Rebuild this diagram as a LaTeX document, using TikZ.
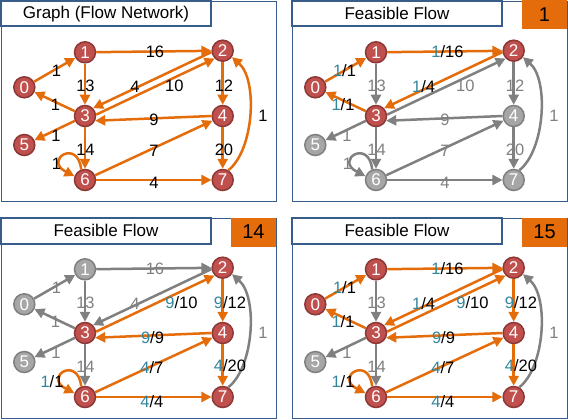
\documentclass[tikz,border=0pt]{standalone}
\usepackage{fontspec}
\setmainfont{Liberation Sans}
\usetikzlibrary{arrows.meta}
\definecolor{eorange}{HTML}{E46C0A}
\definecolor{egray}{HTML}{808080}
\definecolor{nred}{HTML}{C0504D}
\definecolor{nredd}{HTML}{8C3836}
\definecolor{ngray}{HTML}{A6A6A6}
\definecolor{ngrayd}{HTML}{7F7F7F}
\definecolor{fteal}{HTML}{31859C}
\definecolor{fblue}{HTML}{385D8A}
\newcommand\fv[2]{\textcolor{fteal}{#1}/#2}
\newcommand\gv[1]{\textcolor{egray}{#1}}
\tikzset{
  pnode/.style={circle, minimum size=21pt, inner sep=0pt, line width=1.5pt, text=white, font=\fontsize{17}{17}\selectfont},
  rn/.style={pnode, fill=nred, draw=nredd},
  gn/.style={pnode, fill=ngray, draw=ngrayd},
  edgebase/.style={line width=2.5pt, -{Triangle[length=10pt,width=10pt]}},
  fl/.style={edgebase, draw=eorange},
  nf/.style={edgebase, draw=egray},
  lbl/.style={inner sep=0pt, font=\fontsize{16.5}{16.5}\selectfont},
  panelframe/.style={draw=fblue, line width=1pt},
  titlebox/.style={draw=fblue, line width=2pt, fill=white, minimum width=210pt, minimum height=25.5pt, inner sep=0pt, font=\fontsize{17}{17}\selectfont},
  numbox/.style={fill=eorange, minimum width=45pt, minimum height=29pt, inner sep=0pt, font=\fontsize{20}{20}\selectfont},
  p01/.style={at={(56.5,70.5)}},
  p12/.style={at={(155,51.7)}},
  p13/.style={at={(85.5,85.5)}},
  p23/.style={at={(135,87)}},
  p32/.style={at={(174.3,86)}},
  p24/.style={at={(224,86)}},
  p30/.style={at={(55.5,105)}},
  p43/.style={at={(154,120)}},
  p72/.style={at={(263,115.5)}},
  p35/.style={at={(56,135.5)}},
  p36/.style={at={(85.5,150)}},
  p64/.style={at={(154,150.7)}},
  p47/.style={at={(224,150)}},
  p66/.style={at={(56.5,163.5)}},
  p67/.style={at={(154,183.3)}},
  c01/.style={p01/.style={at={(53.5,71)}}},
  c12/.style={p12/.style={at={(156.5,52)}}},
  c23/.style={p23/.style={at={(132.7,86.5)}}},
  c30/.style={p30/.style={at={(52,105)}}},
  c32/.style={p32/.style={at={(181.5,85.7)}}},
  c24/.style={p24/.style={at={(230,85.7)}}},
  c43/.style={p43/.style={at={(152.5,120.5)}}},
  c64/.style={p64/.style={at={(151.8,150.7)}}},
  c47/.style={p47/.style={at={(230,149)}}},
  c66/.style={p66/.style={at={(52,164.5)}}},
  c67/.style={p67/.style={at={(151.8,185)}}},
}
\newcommand\drawnet{%
  \node[n0s] (n0) at (24.3,87.3) {0};
  \node[n1s] (n1) at (85,52.3) {1};
  \node[n2s] (n2) at (222.7,50.7) {2};
  \node[n3s] (n3) at (85,116) {3};
  \node[n4s] (n4) at (222.7,116) {4};
  \node[n5s] (n5) at (24.3,145) {5};
  \node[n6s] (n6) at (85,180) {6};
  \node[n7s] (n7) at (222.7,180) {7};
  \draw[e72] (n7.60) .. controls (254,150) and (258,80) .. (n2.-35);
  \draw[e35] (n3) -- (n5);
  \draw[e36] (n3) -- (n6);
  \draw[e13] (n1) -- (n3);
  \draw[e23] (n2.187) -- (n3.44);
  \draw[e32] (n3.7) -- (n2.224);
  \draw[e01] (n0) -- (n1);
  \draw[e12] (n1) -- (n2);
  \draw[e30] (n3) -- (n0);
  \draw[e24] (n2) -- (n4);
  \draw[e43] (n4.180) -- (n3.-25);
  \draw[e64] (n6) -- (n4);
  \draw[e47] (n4) -- (n7);
  \draw[e66] (n6.110) .. controls (78,138) and (43,160) .. (n6.160);
  \draw[e67] (n6) -- (n7);
  \node[lbl,p01] (l01) {\XLab};
  \node[lbl,p12] (l12) {\XLbc};
  \node[lbl,p13] (l13) {\XLbd};
  \node[lbl,p23] (l23) {\XLcd};
  \node[lbl,p32] (l32) {\XLdc};
  \node[lbl,p24] (l24) {\XLce};
  \node[lbl,p30] (l30) {\XLda};
  \node[lbl,p43] (l43) {\XLed};
  \node[lbl,p72] (l72) {\XLhc};
  \node[lbl,p35] (l35) {\XLdf};
  \node[lbl,p36] (l36) {\XLdg};
  \node[lbl,p64] (l64) {\XLge};
  \node[lbl,p47] (l47) {\XLeh};
  \node[lbl,p66] (l66) {\XLgg};
  \node[lbl,p67] (l67) {\XLgh};
}
\newcommand\drawpanel[1]{%
  \draw[panelframe] (1.5,1.7) rectangle (276.5,201.7);
  \node[titlebox] (tb) at (106,13.75) {#1};
}
\begin{document}
\begin{tikzpicture}[x=1pt,y=-1pt]
\useasboundingbox (0,0) rectangle (568,420);
% ---------- panel 1
\begin{scope}
  \tikzset{n0s/.style=rn,n1s/.style=rn,n2s/.style=rn,n3s/.style=rn,n4s/.style=rn,n5s/.style=rn,n6s/.style=rn,n7s/.style=rn,
    e01/.style=fl,e12/.style=fl,e13/.style=fl,e23/.style=fl,e32/.style=fl,e24/.style=fl,e30/.style=fl,e43/.style=fl,
    e72/.style=fl,e35/.style=fl,e36/.style=fl,e64/.style=fl,e47/.style=fl,e66/.style=fl,e67/.style=fl}
  \def\XLab{1}\def\XLbc{16}\def\XLbd{13}\def\XLcd{4}\def\XLdc{10}\def\XLce{12}\def\XLda{1}\def\XLed{9}
  \def\XLhc{1}\def\XLdf{1}\def\XLdg{14}\def\XLge{7}\def\XLeh{20}\def\XLgg{1}\def\XLgh{4}
  \drawpanel{Graph (Flow Network)}
  \drawnet
\end{scope}
% ---------- panel 2
\begin{scope}[shift={(291,0)}]
  \tikzset{n0s/.style=rn,n1s/.style=rn,n2s/.style=rn,n3s/.style=rn,n4s/.style=gn,n5s/.style=gn,n6s/.style=gn,n7s/.style=gn,
    e01/.style=fl,e12/.style=fl,e13/.style=nf,e23/.style=fl,e32/.style=nf,e24/.style=nf,e30/.style=fl,e43/.style=nf,
    e72/.style=nf,e35/.style=nf,e36/.style=nf,e64/.style=nf,e47/.style=nf,e66/.style=nf,e67/.style=nf,
    c01,c12,c23,c30}
  \def\XLab{\fv{1}{1}}\def\XLbc{\fv{1}{16}}\def\XLbd{\gv{13}}\def\XLcd{\fv{1}{4}}\def\XLdc{\gv{10}}\def\XLce{\gv{12}}\def\XLda{\fv{1}{1}}\def\XLed{\gv{9}}
  \def\XLhc{\gv{1}}\def\XLdf{\gv{1}}\def\XLdg{\gv{14}}\def\XLge{\gv{7}}\def\XLeh{\gv{20}}\def\XLgg{\gv{1}}\def\XLgh{\gv{4}}
  \drawpanel{Feasible Flow}
  \node[numbox] (nb2) at (253.5,15) {1};
  \drawnet
\end{scope}
% ---------- panel 3
\begin{scope}[shift={(0,217)}]
  \tikzset{n0s/.style=gn,n1s/.style=gn,n2s/.style=rn,n3s/.style=rn,n4s/.style=rn,n5s/.style=gn,n6s/.style=rn,n7s/.style=rn,
    e01/.style=nf,e12/.style=nf,e13/.style=nf,e23/.style=nf,e32/.style=fl,e24/.style=fl,e30/.style=nf,e43/.style=fl,
    e72/.style=nf,e35/.style=nf,e36/.style=nf,e64/.style=fl,e47/.style=fl,e66/.style=fl,e67/.style=fl,
    c32,c24,c43,c64,c47,c66,c67}
  \def\XLab{\gv{1}}\def\XLbc{\gv{16}}\def\XLbd{\gv{13}}\def\XLcd{\gv{4}}\def\XLdc{\fv{9}{10}}\def\XLce{\fv{9}{12}}\def\XLda{\gv{1}}\def\XLed{\fv{9}{9}}
  \def\XLhc{\gv{1}}\def\XLdf{\gv{1}}\def\XLdg{\gv{14}}\def\XLge{\fv{4}{7}}\def\XLeh{\fv{4}{20}}\def\XLgg{\fv{1}{1}}\def\XLgh{\fv{4}{4}}
  \drawpanel{Feasible Flow}
  \node[numbox] (nb3) at (253.5,15) {14};
  \drawnet
\end{scope}
% ---------- panel 4
\begin{scope}[shift={(291,217)}]
  \tikzset{n0s/.style=rn,n1s/.style=rn,n2s/.style=rn,n3s/.style=rn,n4s/.style=rn,n5s/.style=gn,n6s/.style=rn,n7s/.style=rn,
    e01/.style=fl,e12/.style=fl,e13/.style=nf,e23/.style=fl,e32/.style=fl,e24/.style=fl,e30/.style=fl,e43/.style=fl,
    e72/.style=nf,e35/.style=nf,e36/.style=nf,e64/.style=fl,e47/.style=fl,e66/.style=fl,e67/.style=fl,
    c01,c12,c23,c30,c32,c24,c43,c64,c47,c66,c67}
  \def\XLab{\fv{1}{1}}\def\XLbc{\fv{1}{16}}\def\XLbd{\gv{13}}\def\XLcd{\fv{1}{4}}\def\XLdc{\fv{9}{10}}\def\XLce{\fv{9}{12}}\def\XLda{\fv{1}{1}}\def\XLed{\fv{9}{9}}
  \def\XLhc{\gv{1}}\def\XLdf{\gv{1}}\def\XLdg{\gv{14}}\def\XLge{\fv{4}{7}}\def\XLeh{\fv{4}{20}}\def\XLgg{\fv{1}{1}}\def\XLgh{\fv{4}{4}}
  \drawpanel{Feasible Flow}
  \node[numbox] (nb4) at (253.5,15) {15};
  \drawnet
\end{scope}
\end{tikzpicture}
\end{document}
